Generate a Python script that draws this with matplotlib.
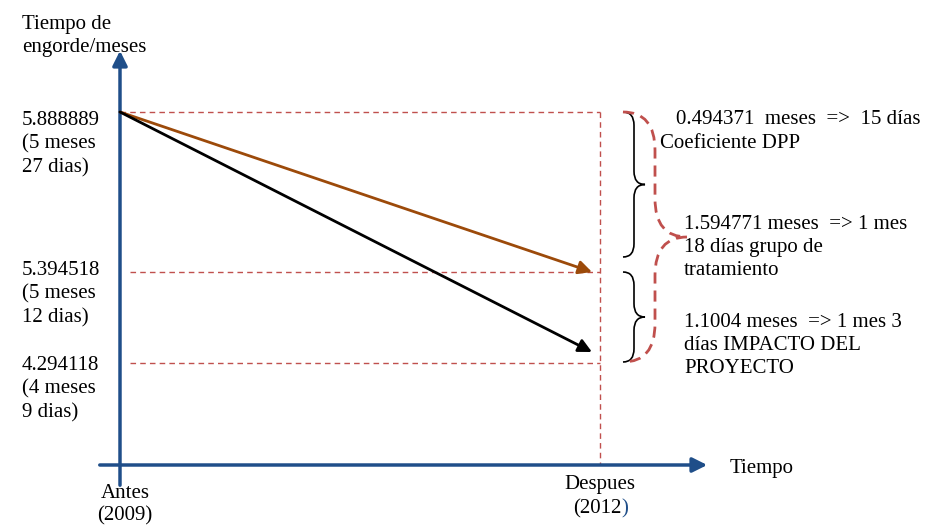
import matplotlib.pyplot as plt
from matplotlib.path import Path
from matplotlib.patches import PathPatch

plt.rcParams['font.family'] = ['Liberation Serif', 'DejaVu Serif']
plt.rcParams['font.size'] = 15

# valores del diagrama (meses)
niveles = [5.888889, 5.394518, 4.294118]
niveles_txt = ["(5 meses\n27 dias)", "(5 meses\n12 dias)", "(4 meses\n9 dias)"]
periodos = ["Antes", "Despues"]
anios = ["(2009)", "(2012"]
diferencias = [0.494371, 1.594771, 1.1004]
dif_txt = ["meses  =>  15 días", "meses  => 1 mes\n18 días grupo de\ntratamiento",
           "meses  => 1 mes 3\ndías IMPACTO DEL\nPROYECTO"]

# layout del esquema (no a escala)
x0, x1 = 120, 600          # antes / despues
y_nivel = [112, 272, 363]  # altura de cada nivel
y_eje = 465
ls_txt = 1.3

azul = '#1F4E89'
rojo = '#C0504D'
cafe = '#9C4A0A'

fig = plt.figure(figsize=(9.28, 5.26), dpi=100)
ax = fig.add_axes([0, 0, 1, 1])
ax.set_xlim(0, 928)
ax.set_ylim(526, 0)
ax.axis('off')

# ejes
ax.annotate('', xy=(x0, 48), xytext=(x0, 488),
            arrowprops=dict(arrowstyle='-|>', color=azul, lw=2.5, mutation_scale=22))
ax.annotate('', xy=(710, y_eje), xytext=(97, y_eje),
            arrowprops=dict(arrowstyle='-|>', color=azul, lw=2.5, mutation_scale=22))

ax.text(22, 15, "Tiempo de\nengorde/meses", va='top', linespacing=ls_txt)
ax.text(730, y_eje + 3, "Tiempo", va='center')
ax.text(125, 494, periodos[0], va='center', ha='center')
ax.text(125, 516, anios[0], va='center', ha='center')
ax.text(600, 485, periodos[1], va='center', ha='center')
t = ax.text(597, 509, anios[1], va='center', ha='center')
ax.annotate(")", xy=(1, 0), xycoords=t, va='bottom', ha='left', color=azul)

# lineas guia
kw = dict(color=rojo, lw=1, ls=(0, (4, 3)))
ax.plot([x0, x1], [y_nivel[0]] * 2, **kw)
ax.plot([x0 + 10, x1], [y_nivel[1]] * 2, **kw)
ax.plot([x0 + 10, x1], [y_nivel[2]] * 2, **kw)
ax.plot([x1, x1], [y_nivel[0], y_eje], **kw)

for v, txt, y in zip(niveles, niveles_txt, [111, 261, 356]):
    ax.text(22, y, f"{v:.6f}\n{txt}", va='top', linespacing=ls_txt)

# trayectorias
ax.annotate('', xy=(x1 - 8, y_nivel[1]), xytext=(x0, y_nivel[0]),
            arrowprops=dict(arrowstyle='-|>', color=cafe, lw=2, mutation_scale=20, shrinkA=0, shrinkB=0))
ax.annotate('', xy=(x1 - 8, y_nivel[2] - 11), xytext=(x0, y_nivel[0]),
            arrowprops=dict(arrowstyle='-|>', color='black', lw=2, mutation_scale=20, shrinkA=0, shrinkB=0))


def llave(x, ya, yb, w, **kw):
    ym = (ya + yb) / 2
    h = w / 2
    q = min(h * 1.2, (yb - ya) / 4)
    verts = [(x, ya), (x + h, ya), (x + h, ya + q),
             (x + h, ym - q), (x + h, ym), (x + w, ym),
             (x + h, ym), (x + h, ym + q),
             (x + h, yb - q), (x + h, yb), (x, yb)]
    codes = [Path.MOVETO, Path.CURVE3, Path.CURVE3,
             Path.LINETO, Path.CURVE3, Path.CURVE3,
             Path.CURVE3, Path.CURVE3,
             Path.LINETO, Path.CURVE3, Path.CURVE3]
    ax.add_patch(PathPatch(Path(verts, codes), fill=False, **kw))


llave(623, 112, 257, 22, color='black', lw=1.2)
llave(623, 272, 362, 22, color='black', lw=1.2)
llave(623, 112, 362, 64, color=rojo, lw=2, ls=(0, (4, 2.5)))

ax.text(676, 120, f"{diferencias[0]:.6f}  {dif_txt[0]}", va='center')
ax.text(660, 143, "Coeficiente DPP", va='center')
ax.text(684, 215, f"{diferencias[1]:.6f} {dif_txt[1]}", va='top', linespacing=ls_txt)
ax.text(684, 313, f"{diferencias[2]} {dif_txt[2]}", va='top', linespacing=ls_txt)

fig.savefig('out.png', dpi=100)
